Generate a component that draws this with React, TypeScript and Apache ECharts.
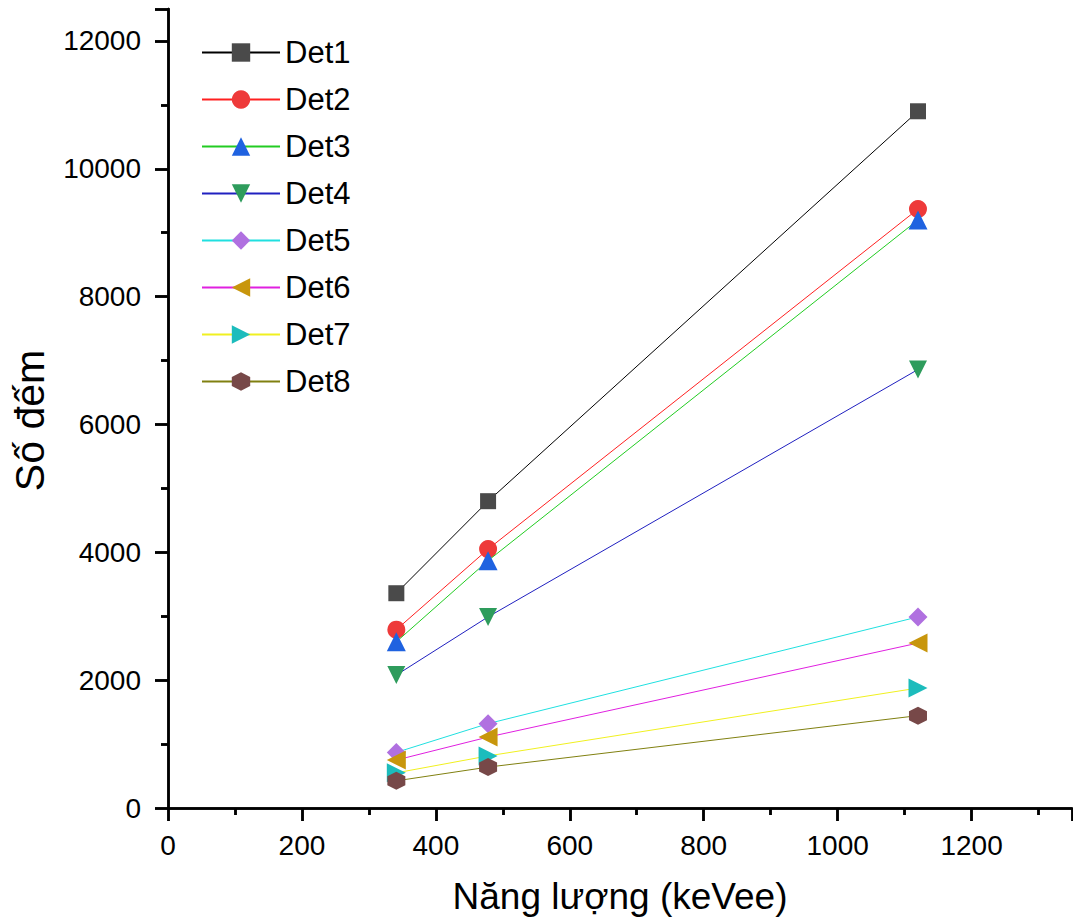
import React, { useEffect, useRef } from "react";
import * as echarts from "echarts";

const energies = [341, 478, 1120];
const seriesNames = ["Det1", "Det2", "Det3", "Det4", "Det5", "Det6", "Det7", "Det8"];
const det1 = [3360, 4800, 10900];
const det2 = [2790, 4050, 9370];
const det3 = [2600, 3870, 9200];
const det4 = [2080, 2990, 6860];
const det5 = [870, 1320, 2990];
const det6 = [750, 1110, 2580];
const det7 = [550, 815, 1877];
const det8 = [425, 640, 1445];
const allValues = [det1, det2, det3, det4, det5, det6, det7, det8];

const lineColors = ["#000000", "#ff2020", "#22cc22", "#2020c0", "#20e0e0", "#e020e0", "#f0f020", "#808010"];
const markerColors = ["#4a4a4a", "#ee3a3a", "#1f62e0", "#2e9c5c", "#b070e0", "#c8960c", "#1cbcbc", "#774848"];
const symbols = [
  "rect",
  "circle",
  "triangle",
  "path://M0,0 L10,0 L5,9 Z",
  "diamond",
  "path://M0,5 L9,0 L9,10 Z",
  "path://M0,0 L9,5 L0,10 Z",
  "path://M5,0 L9.33,2.5 L9.33,7.5 L5,10 L0.67,7.5 L0.67,2.5 Z",
];
const symbolSizes = [16, 18, 19, 18, 19, 19, 19, 18];

const FONT = "'Liberation Sans', Arial, sans-serif";

export default function App() {
  const ref = useRef<HTMLDivElement>(null);
  useEffect(() => {
    if (!ref.current) return;
    const chart = echarts.init(ref.current, undefined, { renderer: "svg" });
    const axisLine = { show: true, lineStyle: { color: "#000", width: 2.5 } };
    const tickStyle = { width: 2.5, color: "#000" };
    const plain = (v: number) => String(v);
    const series = seriesNames.map((name, i) => ({
      name,
      type: "line",
      data: energies.map((e, j) => [e, allValues[i][j]]),
      symbol: symbols[i],
      symbolSize: symbolSizes[i],
      lineStyle: { color: lineColors[i], width: 1 },
      itemStyle: { color: markerColors[i] },
      z: 2 + i,
    }));
    chart.setOption({
      animation: false,
      backgroundColor: "#fff",
      textStyle: { fontFamily: FONT },
      grid: { left: 168, right: 1, top: 9, bottom: 114, containLabel: false },
      legend: {
        orient: "vertical",
        left: 196,
        top: 32,
        itemWidth: 78,
        itemHeight: 23,
        itemGap: 16,
        textStyle: { fontSize: 31, fontFamily: FONT, color: "#000", lineHeight: 31 },
        data: seriesNames,
      },
      xAxis: [
        {
          type: "value",
          min: 0,
          max: 1350,
          interval: 200,
          name: "Năng lượng (keVee)",
          nameLocation: "middle",
          nameGap: 70,
          nameTextStyle: { fontSize: 37, color: "#000", fontFamily: FONT },
          axisLine,
          axisTick: { show: true, inside: false, length: 13, lineStyle: tickStyle },
          minorTick: { show: true, splitNumber: 2, length: 7, lineStyle: tickStyle },
          axisLabel: { fontSize: 28, color: "#000", margin: 23, fontFamily: FONT, showMaxLabel: false, formatter: plain },
          splitLine: { show: false },
        },
        {
          type: "value",
          position: "top",
          min: 0,
          max: 1350,
          interval: 200,
          axisLine,
          axisTick: { show: true, inside: true, length: 13, lineStyle: tickStyle },
          minorTick: { show: true, splitNumber: 2, length: 7, lineStyle: tickStyle },
          axisLabel: { show: false },
          splitLine: { show: false },
        },
      ],
      yAxis: [
        {
          type: "value",
          min: 0,
          max: 12500,
          interval: 2000,
          name: "Số đếm",
          nameLocation: "middle",
          nameGap: 118,
          nameTextStyle: { fontSize: 41, color: "#000", fontFamily: FONT, padding: [0, 24, 0, 0] },
          axisLine,
          axisTick: { show: true, inside: false, length: 13, lineStyle: tickStyle },
          minorTick: { show: true, splitNumber: 2, length: 7, lineStyle: tickStyle },
          axisLabel: { fontSize: 28, color: "#000", margin: 27, fontFamily: FONT, showMaxLabel: false, formatter: plain },
          splitLine: { show: false },
        },
        {
          type: "value",
          position: "right",
          min: 0,
          max: 12500,
          interval: 2000,
          axisLine,
          axisTick: { show: true, inside: true, length: 13, lineStyle: tickStyle },
          minorTick: { show: true, splitNumber: 2, length: 7, lineStyle: tickStyle },
          axisLabel: { show: false },
          splitLine: { show: false },
        },
      ],
      series,
    });
    return () => chart.dispose();
  }, []);
  return <div ref={ref} style={{ width: 1073, height: 922, position: "absolute", left: 0, top: 0 }} />;
}
